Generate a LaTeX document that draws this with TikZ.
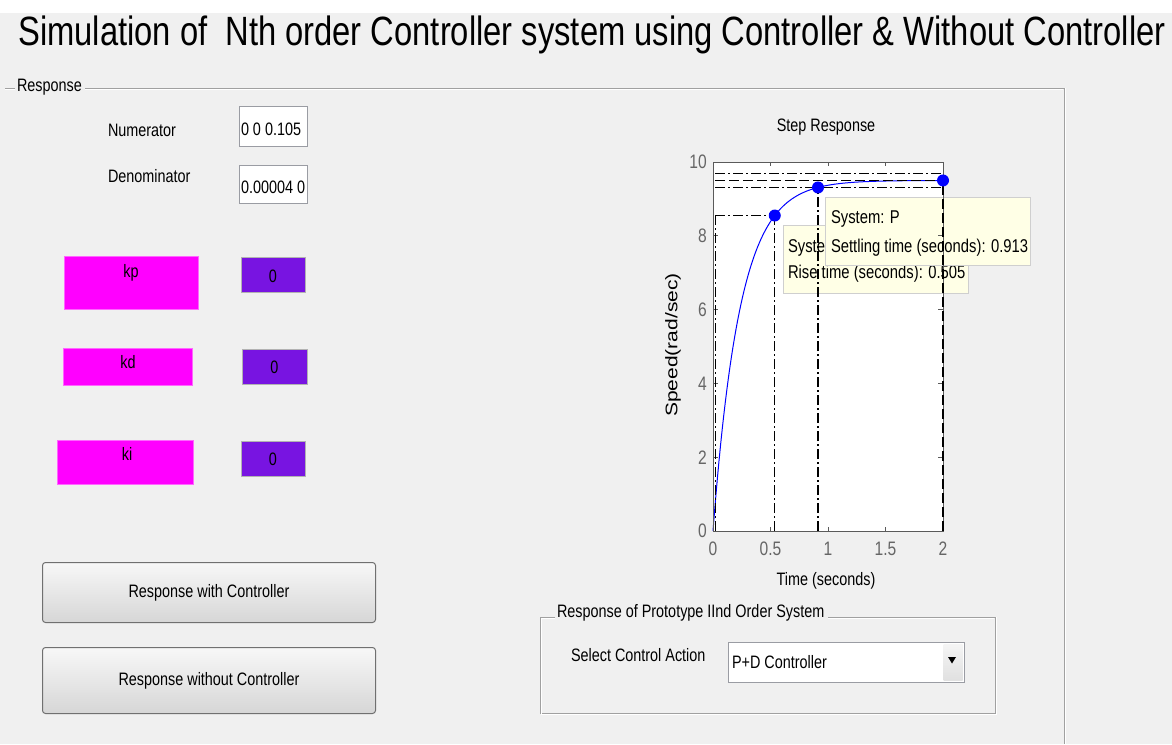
\documentclass[tikz,border=0pt]{standalone}
\usepackage{fontspec}
\setmainfont{Liberation Sans}
\newfontfamily\uifam[FakeStretch=0.8]{Liberation Sans}
\newfontfamily\plainfam{Liberation Sans}
\newcommand\uisz[1]{\fontsize{#1}{#1}\selectfont\uifam}
\definecolor{guibg}{HTML}{F0F0F0}
\definecolor{etchgray}{HTML}{A0A0A0}
\definecolor{pinkbox}{HTML}{FF00FF}
\definecolor{purplebox}{HTML}{7814E1}
\definecolor{tipfill}{HTML}{FFFFE6}
\definecolor{tipborder}{HTML}{CFCFCF}
\definecolor{ticklbl}{HTML}{666666}
\definecolor{axisgray}{HTML}{5A5A5A}
\definecolor{editborder}{HTML}{9A9CA3}
\definecolor{btnborder}{HTML}{707070}
\definecolor{mblue}{HTML}{0000FF}
\begin{document}
\begin{tikzpicture}[x=1pt,y=-1pt,
  txt/.style={inner sep=0pt, outer sep=0pt, font=\uisz{18}},
  tiptxt/.style={inner sep=0pt, outer sep=0pt, font=\uisz{18.5}},
  ticktxt/.style={inner sep=0pt, font=\uisz{19.5}, text=ticklbl},
  etch/.style={draw=etchgray, line width=1pt},
  etchw/.style={draw=white, line width=1pt},
  editbox/.style={draw=editborder, fill=white, line width=1pt, inner sep=0pt, anchor=north west},
  kbox/.style={fill=pinkbox, draw=pinkbox!60!white, inner sep=0pt, anchor=north west},
  valbox/.style={fill=purplebox, draw=gray!60, line width=1pt, inner sep=0pt, anchor=north west},
  btn/.style={draw=btnborder, rounded corners=3pt, top color=white!97!black, bottom color=white!84!black, line width=1pt, inner sep=0pt, anchor=north west},
  tip/.style={fill=tipfill, draw=tipborder, line width=1pt, inner sep=0pt, anchor=north west},
  dashdot/.style={black, line width=1.1pt, dash pattern=on 10pt off 3pt on 2pt off 3pt},
  dashlong/.style={black, line width=1.1pt, dash pattern=on 10pt off 4pt},
  marker/.style={circle, fill=mblue, inner sep=0pt, minimum size=12pt},
  plotaxes/.style={shift={(713,531)}, x=115pt, y=36.9pt},
]
\useasboundingbox (0,0) rectangle (1172,744);
\fill[white] (0,0) rectangle (1172,13);
\fill[guibg] (0,13) rectangle (1172,744);

% title
\node[inner sep=0pt, font=\uisz{40.9}, anchor=base west] (title) at (18,45)
  {Simulation of\ \ Nth order Controller system using Controller \& Without Controller};

% main panel
\draw[etch] (5,88) -- (15,88);
\draw[etchw] (5,89) -- (15,89);
\node[txt, anchor=west] (resp) at (17,87) {Response};
\draw[etch] (85,88) -- (1064,88) -- (1064,744);
\draw[etchw] (85,89) -- (1063,89);
\draw[etchw] (1065,88) -- (1065,744);

% numerator / denominator
\node[txt, anchor=base west] (numlbl) at (108,136.5) {Numerator};
\node[editbox, minimum width=68pt, minimum height=40pt] (numbox) at (239,106) {};
\node[txt, anchor=base west] (numval) at (241,135) {0 0 0.105};
\node[txt, anchor=base west] (denlbl) at (108,182) {Denominator};
\node[editbox, minimum width=68pt, minimum height=38pt] (denbox) at (239,165) {};
\node[txt, anchor=base west] (denval) at (241,193) {0.00004 0};

% gains
\node[kbox, minimum width=134pt, minimum height=53pt] (kpbox) at (64,256) {};
\node[txt, anchor=base] (kplbl) at (131,277) {kp};
\node[valbox, minimum width=64pt, minimum height=35pt] (kpval) at (241,257) {};
\node[txt, anchor=base] (kpzero) at (273,282) {0};

\node[kbox, minimum width=129pt, minimum height=37pt] (kdbox) at (63,348) {};
\node[txt, anchor=base] (kdlbl) at (128,368.5) {kd};
\node[valbox, minimum width=65pt, minimum height=35pt] (kdval) at (242,349) {};
\node[txt, anchor=base] (kdzero) at (274.5,373.5) {0};

\node[kbox, minimum width=136pt, minimum height=44pt] (kibox) at (57,440) {};
\node[txt, anchor=base] (kilbl) at (127,460.5) {ki};
\node[valbox, minimum width=64pt, minimum height=35pt] (kival) at (241,441) {};
\node[txt, anchor=base] (kizero) at (273,465.5) {0};

% buttons
\node[btn, minimum width=333pt, minimum height=60pt] (btnwith) at (42,562) {};
\node[txt] (btnwithtxt) at (btnwith.center) {Response with Controller};
\node[btn, minimum width=333pt, minimum height=66pt] (btnwo) at (42,647) {};
\node[txt] (btnwotxt) at (btnwo.center) {Response without Controller};

% bottom panel
\draw[etch] (555,617) -- (540,617) -- (540,713) -- (995,713) -- (995,617) -- (828,617);
\draw[etchw] (555,618) -- (541,618) -- (541,714) -- (996,714) -- (996,617);
\draw[etchw] (828,618) -- (994,618);
\node[txt, anchor=west] (prottl) at (557,613) {Response of Prototype IInd Order System};
\node[txt, anchor=west] (sellbl) at (571,655) {Select Control Action};
\node[editbox, minimum width=236pt, minimum height=40pt] (popup) at (728,642) {};
\node[txt, anchor=west] (popval) at (732,662) {P+D Controller};
\node[inner sep=0pt, anchor=north west, minimum width=19pt, minimum height=36pt,
      top color=white!96!black, bottom color=white!88!black] (popbtn) at (943.5,644) {};
\fill[black] (948,657) -- (956,657) -- (952,663.5) -- cycle;

% plot labels
\node[txt] (plottitle) at (826,127) {Step Response};
\node[txt] (xlbl) at (826,581) {Time (seconds)};
\node[inner sep=0pt, rotate=90, font=\fontsize{21}{21}\selectfont\plainfam] (ylbl) at (673,345)
  {\scalebox{1}[0.8]{Speed(rad/sec)}};
\node[ticktxt] (xt0) at (713,548.5) {0};
\node[ticktxt] (xt1) at (770.5,548.5) {0.5};
\node[ticktxt] (xt2) at (828,548.5) {1};
\node[ticktxt] (xt3) at (885.5,548.5) {1.5};
\node[ticktxt] (xt4) at (943,548.5) {2};
\node[ticktxt, anchor=east] (yt0) at (707,531) {0};
\node[ticktxt, anchor=east] (yt2) at (707,457.2) {2};
\node[ticktxt, anchor=east] (yt4) at (707,383.4) {4};
\node[ticktxt, anchor=east] (yt6) at (707,309.6) {6};
\node[ticktxt, anchor=east] (yt8) at (707,235.8) {8};
\node[ticktxt, anchor=east] (yt10) at (707,162) {10};

\begin{scope}[plotaxes]
  \fill[white] (0,0) rectangle (2,10);
  \draw[mblue, line width=1pt] plot[domain=0:2, samples=150] (\x,{9.5*(1-exp(-\x/0.2333))});
\end{scope}

% data tips
\node[tip, minimum width=185pt, minimum height=68pt] (risetip) at (783,225) {};
\node[tiptxt, anchor=base west] (risesys) at (788,252) {Syste};
\node[tiptxt, anchor=base west] (riseval) at (788,278) {Rise time (seconds): 0.505};
\node[tip, minimum width=205pt, minimum height=68pt] (settip) at (825,197) {};
\node[tiptxt, anchor=base west] (setsys) at (831,223) {System: P};
\node[tiptxt, anchor=base west] (setval) at (831,252) {Settling time (seconds): 0.913};

\begin{scope}[plotaxes]
  \draw[axisgray, line width=1pt] (0,0) rectangle (2,10);
  \foreach \t in {0,0.5,1,1.5,2} {
    \draw[axisgray, line width=1pt] (\t,0) -- ++(0,0.12);
    \draw[axisgray, line width=1pt] (\t,10) -- ++(0,-0.12);
  }
  \foreach \v in {0,2,4,6,8,10} {
    \draw[axisgray, line width=1pt] (0,\v) -- ++(0.04,0);
    \draw[axisgray, line width=1pt] (2,\v) -- ++(-0.04,0);
  }
  \coordinate (pten) at (0.0246,8.55);
  \coordinate (prise) at (0.537,8.55);
  \coordinate (pset) at (0.913,9.31);
  \coordinate (pfin) at (2,9.5);
  \draw[dashdot] (0.02,9.69) -- (2,9.69);
  \draw[dashlong] (0.02,9.5) -- (pfin);
  \draw[dashdot] (0.02,9.31) -- (2,9.31);
  \draw[dashdot] (0.02,8.55) -- (prise);
  \draw[dashdot] (0.0246,0) -- (pten);
  \draw[dashdot] (0.537,0) -- (prise);
  \draw[dashdot] (0.913,0) -- (pset);
  \draw[dashlong] (2,0) -- (pfin);
  \node[marker] (mrise) at (prise) {};
  \node[marker] (mset) at (pset) {};
  \node[marker] (mfin) at (pfin) {};
\end{scope}
\end{tikzpicture}
\end{document}
